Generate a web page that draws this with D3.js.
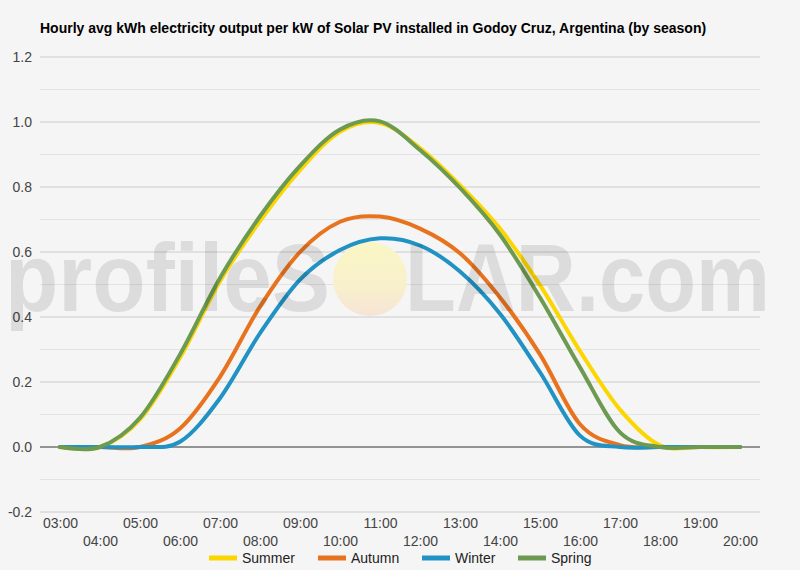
<!DOCTYPE html>
<html>
<head>
<meta charset="utf-8">
<script src="https://cdn.jsdelivr.net/npm/d3@7"></script>
<style>
  body { margin: 0; background: #f5f5f5; }
  text { font-family: "Liberation Sans", Arial, sans-serif; }
</style>
</head>
<body>
<div id="chart"></div>
<script>
// hourly data (kWh per kW)
var hours = ["03:00","04:00","05:00","06:00","07:00","08:00","09:00","10:00","11:00",
             "12:00","13:00","14:00","15:00","16:00","17:00","18:00","19:00","20:00"];
var summer = [0, 0, 0.085, 0.275, 0.51, 0.695, 0.852, 0.97, 0.997, 0.92, 0.806, 0.672, 0.498, 0.295, 0.115, 0.005, 0, 0];
var autumn = [0, 0, 0, 0.057, 0.216, 0.432, 0.6, 0.693, 0.709, 0.672, 0.596, 0.46, 0.285, 0.07, 0.006, 0, 0, 0];
var winter = [0, 0, 0, 0.016, 0.15, 0.35, 0.515, 0.606, 0.642, 0.62, 0.54, 0.41, 0.23, 0.035, 0, 0, 0, 0];
var spring = [0, 0, 0.09, 0.285, 0.52, 0.71, 0.865, 0.977, 1.002, 0.914, 0.797, 0.653, 0.46, 0.245, 0.045, 0, 0, 0];
var seriesNames = ["Summer", "Autumn", "Winter", "Spring"];
var seriesColors = ["#fcd600", "#e8731f", "#2092c3", "#6c9a50"];
var yTicks = [-0.2, 0, 0.2, 0.4, 0.6, 0.8, 1.0, 1.2];
var yMinor = [-0.1, 0.1, 0.3, 0.5, 0.7, 0.9, 1.1];

var width = 800, height = 570;
var plotLeft = 40, plotRight = 760, plotTop = 57, plotBottom = 512;

var svg = d3.select("#chart").append("svg")
  .attr("width", width)
  .attr("height", height);

svg.append("rect").attr("width", width).attr("height", height).attr("fill", "#f5f5f5");

// title
svg.append("text")
  .attr("x", 40).attr("y", 33)
  .attr("font-size", 14).attr("font-weight", "bold").attr("fill", "#000")
  .text("Hourly avg kWh electricity output per kW of Solar PV installed in Godoy Cruz, Argentina (by season)");

// scales
var x = d3.scalePoint().domain(hours).range([plotLeft, plotRight]).padding(0.5);
var y = d3.scaleLinear().domain([-0.2, 1.2]).range([plotBottom, plotTop]);

// gridlines
svg.append("g").selectAll("line").data(yMinor).enter().append("line")
  .attr("x1", plotLeft).attr("x2", plotRight)
  .attr("y1", function (d) { return y(d); }).attr("y2", function (d) { return y(d); })
  .attr("stroke", "#e3e3e3").attr("stroke-width", 1);
svg.append("g").selectAll("line").data(yTicks.filter(function (d) { return d !== 0; })).enter().append("line")
  .attr("x1", plotLeft).attr("x2", plotRight)
  .attr("y1", function (d) { return y(d); }).attr("y2", function (d) { return y(d); })
  .attr("stroke", "#cccccc").attr("stroke-width", 1);

// y axis labels (plain hyphen for negatives)
var yAxis = d3.axisLeft(y).tickValues(yTicks).tickSize(0).tickPadding(8)
  .tickFormat(function (d) { return d.toFixed(1); });
var gy = svg.append("g").attr("transform", "translate(" + plotLeft + ",0)").call(yAxis);
gy.select(".domain").remove();
gy.selectAll("text").attr("font-size", 14).attr("fill", "#444")
  .attr("font-family", "Liberation Sans, Arial, sans-serif");

// x axis labels, alternate rows
var xAxis = d3.axisBottom(x).tickSize(0).tickPadding(0);
var gx = svg.append("g").attr("transform", "translate(0," + plotBottom + ")").call(xAxis);
gx.select(".domain").remove();
gx.selectAll("text")
  .attr("font-size", 14).attr("fill", "#444")
  .attr("font-family", "Liberation Sans, Arial, sans-serif")
  .attr("dy", null)
  .attr("y", function (d, i) { return i % 2 === 0 ? 16 : 34; });

// sun of the watermark, behind the lines
var grad = svg.append("defs").append("linearGradient")
  .attr("id", "sun").attr("x1", 0).attr("y1", 0).attr("x2", 0).attr("y2", 1);
grad.append("stop").attr("offset", "0%").attr("stop-color", "#faf6c4");
grad.append("stop").attr("offset", "60%").attr("stop-color", "#f8f0cc");
grad.append("stop").attr("offset", "100%").attr("stop-color", "#f6e4d6");
svg.append("circle").attr("cx", 370).attr("cy", 279).attr("r", 37).attr("fill", "url(#sun)");

// zero line
svg.append("line")
  .attr("x1", plotLeft).attr("x2", plotRight)
  .attr("y1", y(0)).attr("y2", y(0))
  .attr("stroke", "#333").attr("stroke-width", 1);

// lines
var allSeries = [summer, autumn, winter, spring];
var line = d3.line()
  .x(function (d, i) { return x(hours[i]); })
  .y(function (d) { return y(d); })
  .curve(d3.curveCardinal.tension(0));

svg.append("g").selectAll("path").data(allSeries).enter().append("path")
  .attr("d", line)
  .attr("fill", "none")
  .attr("stroke", function (d, i) { return seriesColors[i]; })
  .attr("stroke-width", 4)
  .attr("stroke-linejoin", "round")
  .attr("stroke-linecap", "round");

// watermark text over the lines
var wm = svg.append("g").attr("fill", "#000").attr("fill-opacity", 0.1)
  .attr("font-size", 96).attr("font-weight", "bold");
wm.append("text").attr("x", 5).attr("y", 311)
  .attr("textLength", 325).attr("lengthAdjust", "spacingAndGlyphs").text("profileS");
wm.append("text").attr("x", 405).attr("y", 311)
  .attr("textLength", 365).attr("lengthAdjust", "spacingAndGlyphs").text("LAR.com");

// legend
var legendX = [209, 318, 422, 518];
var legend = svg.append("g").selectAll("g").data(seriesNames).enter().append("g")
  .attr("transform", function (d, i) { return "translate(" + legendX[i] + ",558)"; });
legend.append("line")
  .attr("x1", 0).attr("x2", 28).attr("y1", 0).attr("y2", 0)
  .attr("stroke", function (d, i) { return seriesColors[i]; })
  .attr("stroke-width", 5);
legend.append("text")
  .attr("x", 33).attr("y", 5)
  .attr("font-size", 14).attr("fill", "#222")
  .text(function (d) { return d; });
</script>
</body>
</html>
